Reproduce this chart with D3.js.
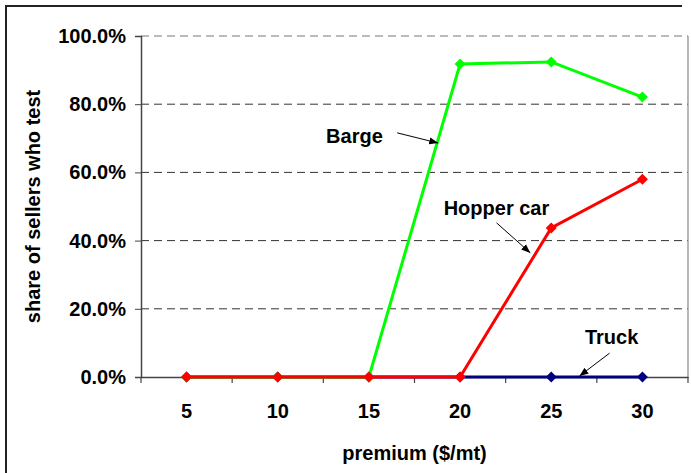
<!DOCTYPE html>
<html><head><meta charset="utf-8">
<script src="https://cdn.jsdelivr.net/npm/d3@7"></script>
<style>body{margin:0;background:#fff}svg{display:block}text{font-family:"Liberation Sans",Arial,sans-serif;font-weight:bold;fill:#000}</style>
</head><body>
<script>
const categories = ["5","10","15","20","25","30"];
const barge = [0, 0, 0, 0.918, 0.924, 0.821];
const hopper = [0, 0, 0, 0, 0.437, 0.580];
const truck = [0, 0, 0, 0, 0, 0];
const yTicks = [0, 0.2, 0.4, 0.6, 0.8, 1.0];
const seriesList = [
  {name:"Truck", values:truck, color:"#000080"},
  {name:"Barge", values:barge, color:"#00ff00"},
  {name:"Hopper car", values:hopper, color:"#ff0000"}
];
// annotations: label position & arrow in data units (category index, share)
const annotations = [
  {text:"Barge", tx:1.53, ty:0.686, ax0:2.31, ay0:0.716, ax1:2.76, ay1:0.686},
  {text:"Hopper car", tx:2.82, ty:0.475, ax0:3.40, ay0:0.452, ax1:3.77, ay1:0.364},
  {text:"Truck", tx:4.37, ty:0.097, ax0:4.64, ay0:0.070, ax1:4.31, ay1:0.003}
];

const W=691,H=473;
const m={l:141,r:688,t:36,b:377};
const svg=d3.select("body").append("svg").attr("width",W).attr("height",H);
svg.append("defs").append("marker").attr("id","ah").attr("viewBox","0 0 10 10")
  .attr("refX",10).attr("refY",5).attr("markerWidth",9).attr("markerHeight",9)
  .attr("markerUnits","userSpaceOnUse").attr("orient","auto")
  .append("path").attr("d","M0,1L10,5L0,9Z").attr("fill","#000");

// outer frame
svg.append("path").attr("d","M6,473V6H682").attr("fill","none").attr("stroke","#222").attr("stroke-width",2);

const x=d3.scaleBand().domain(categories).range([m.l,m.r]).padding(0);
const y=d3.scaleLinear().domain([0,1]).range([m.b,m.t]);
const xi=i=>m.l+(i+0.5)*x.bandwidth();
const FS="20px";

// gridlines
svg.append("g").selectAll("line").data(yTicks.filter(d=>d>0)).join("line")
  .attr("x1",m.l).attr("x2",m.r).attr("y1",d=>y(d)).attr("y2",d=>y(d))
  .attr("stroke",d=>d===1?"#777":"#333").attr("stroke-width",1).attr("stroke-dasharray","8,5");
// right border
svg.append("line").attr("x1",m.r).attr("x2",m.r).attr("y1",m.t).attr("y2",m.b).attr("stroke","#888").attr("stroke-width",1.2);

// y axis
const yAxis=svg.append("g").attr("transform",`translate(${m.l},0)`)
  .call(d3.axisLeft(y).tickValues(yTicks).tickFormat(d3.format(".1%")).tickSize(6).tickPadding(9));
yAxis.select(".domain").attr("stroke","#444").attr("stroke-width",1.5);
yAxis.selectAll(".tick line").attr("stroke","#444");
yAxis.selectAll("text").style("font-size",FS).attr("font-family",null);

// x axis
const xAxis=svg.append("g").attr("transform",`translate(0,${m.b})`)
  .call(d3.axisBottom(x).tickSize(0).tickPadding(27));
xAxis.select(".domain").attr("stroke","#444").attr("stroke-width",1.5);
xAxis.selectAll("text").style("font-size",FS).attr("font-family",null);
// tick marks at category boundaries
xAxis.append("g").selectAll("line").data(d3.range(categories.length+1)).join("line")
  .attr("x1",i=>m.l+i*x.bandwidth()).attr("x2",i=>m.l+i*x.bandwidth())
  .attr("y1",0).attr("y2",6).attr("stroke","#444").attr("stroke-width",1.2);

// series
const line=d3.line().x((d,i)=>x(categories[i])+x.bandwidth()/2).y(d=>y(d));
seriesList.forEach(s=>{
  const g=svg.append("g");
  g.append("path").datum(s.values).attr("d",line).attr("fill","none").attr("stroke",s.color).attr("stroke-width",3);
  g.selectAll("path.pt").data(s.values).join("path").attr("class","pt")
    .attr("transform",(d,i)=>`translate(${x(categories[i])+x.bandwidth()/2},${y(d)})`)
    .attr("d","M0,-5.5L5.5,0L0,5.5L-5.5,0Z").attr("fill",s.color);
});

// annotations
annotations.forEach(a=>{
  svg.append("text").attr("x",xi(a.tx)).attr("y",y(a.ty)).text(a.text).style("font-size",FS);
  svg.append("line").attr("x1",xi(a.ax0)).attr("y1",y(a.ay0)).attr("x2",xi(a.ax1)).attr("y2",y(a.ay1))
    .attr("stroke","#000").attr("stroke-width",1).attr("marker-end","url(#ah)");
});

// axis titles
svg.append("text").attr("x",(m.l+m.r)/2).attr("y",460).attr("text-anchor","middle").style("font-size",FS).text("premium ($/mt)");
svg.append("text").attr("transform",`translate(40,${(m.t+m.b)/2}) rotate(-90)`).attr("text-anchor","middle").style("font-size",FS).text("share of sellers who test");
</script>
</body></html>
